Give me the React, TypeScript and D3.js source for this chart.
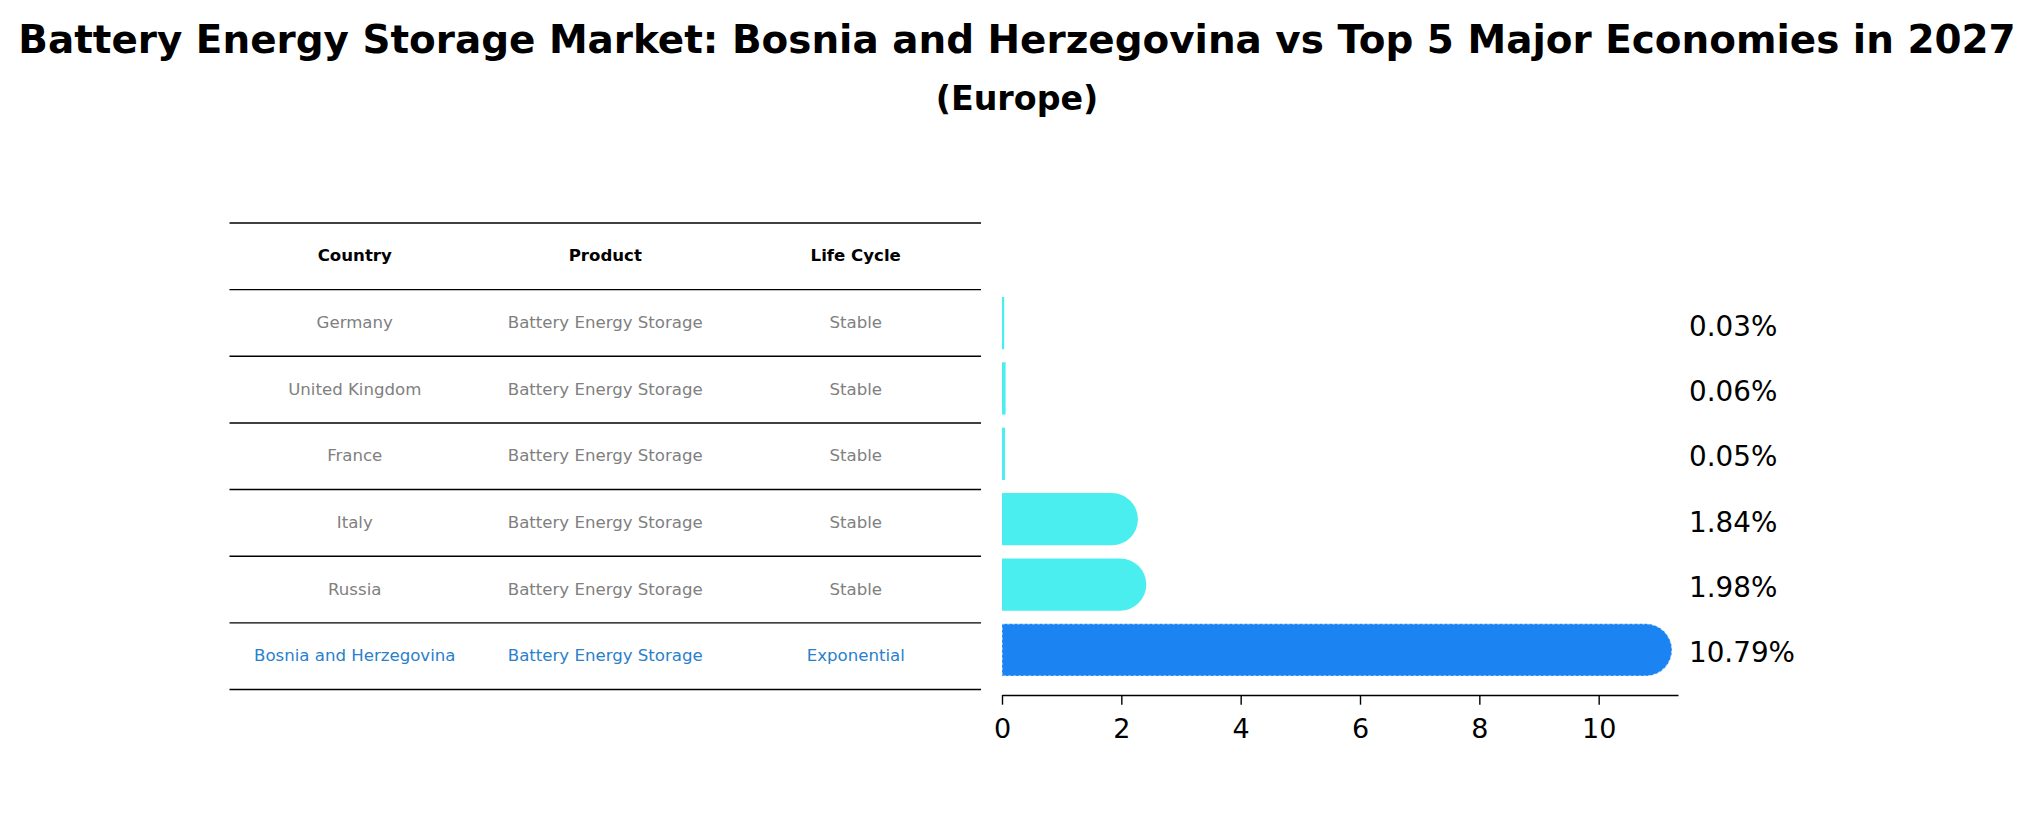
import { useEffect, useRef } from 'react'
import * as d3 from 'd3'

const W = 2034
const H = 823
const FONT = '"DejaVu Sans", sans-serif'

const headers = ['Country', 'Product', 'Life Cycle']
const countries = ['Germany', 'United Kingdom', 'France', 'Italy', 'Russia', 'Bosnia and Herzegovina']
const products = ['Battery Energy Storage', 'Battery Energy Storage', 'Battery Energy Storage', 'Battery Energy Storage', 'Battery Energy Storage', 'Battery Energy Storage']
const lifeCycles = ['Stable', 'Stable', 'Stable', 'Stable', 'Stable', 'Exponential']
const growth = [0.03, 0.06, 0.05, 1.84, 1.98, 10.79]
const xTicks = [0, 2, 4, 6, 8, 10]

const FOCUS = 'Bosnia and Herzegovina'
const CYAN = '#4aeeee'
const BLUE = '#1b84f2'
const FOCUS_TEXT = '#2a80cc'

export default function App() {
  const svgRef = useRef<SVGSVGElement>(null)

  useEffect(() => {
    const svg = d3.select(svgRef.current)
    svg.selectAll('*').remove()
    svg.append('rect').attr('width', W).attr('height', H).attr('fill', '#fff')

    // titles
    svg.append('text').attr('x', W / 2).attr('y', 53).attr('text-anchor', 'middle')
      .attr('font-family', FONT).attr('font-weight', 'bold').attr('font-size', 38.9)
      .text('Battery Energy Storage Market: Bosnia and Herzegovina vs Top 5 Major Economies in 2027')
    svg.append('text').attr('x', W / 2).attr('y', 110).attr('text-anchor', 'middle')
      .attr('font-family', FONT).attr('font-weight', 'bold').attr('font-size', 33.3)
      .text('(Europe)')

    // table
    const rows = d3.scaleBand<string>().domain(['__head', ...countries]).range([223, 689.5])
    const cols = d3.scaleBand<string>().domain(headers).range([229.5, 981])
    const tg = svg.append('g')
    const lineYs = [...rows.domain().map((d) => rows(d)!), rows.range()[1]]
    lineYs.forEach((y) => tg.append('line').attr('x1', cols.range()[0]).attr('x2', cols.range()[1])
      .attr('y1', y).attr('y2', y).attr('stroke', '#000').attr('stroke-width', 1.4))
    headers.forEach((h) => tg.append('text')
      .attr('x', cols(h)! + cols.bandwidth() / 2).attr('y', rows('__head')! + rows.bandwidth() / 2 + 5)
      .attr('text-anchor', 'middle').attr('font-family', FONT).attr('font-weight', 'bold').attr('font-size', 16.6)
      .text(h))
    countries.forEach((c, i) => {
      const cells = [c, products[i], lifeCycles[i]]
      const color = c === FOCUS ? FOCUS_TEXT : '#808080'
      cells.forEach((t, j) => tg.append('text')
        .attr('x', cols(headers[j])! + cols.bandwidth() / 2).attr('y', rows(c)! + rows.bandwidth() / 2 + 5)
        .attr('text-anchor', 'middle').attr('font-family', FONT).attr('font-size', 16.6)
        .attr('fill', color).text(t))
    })

    // bars
    const maxV = d3.max(growth)!
    const x = d3.scaleLinear().domain([0, maxV * 1.05]).range([1002, 1678])
    const n = countries.length
    const y = d3.scaleLinear().domain([-0.69, n - 1 + 0.69]).range([695, 278])
    const bh = y(0) - y(0.8)
    const bg = svg.append('g')
    countries.forEach((c, i) => {
      const yc = y(n - 1 - i)
      const top = yc - bh / 2
      const bottom = yc + bh / 2
      const x0 = x(0)
      const xv = x(growth[i])
      const w = xv - x0
      const fill = c === FOCUS ? BLUE : CYAN
      if (w > 6) {
        const r = bh / 2
        bg.append('path')
          .attr('d', `M${x0},${top} H${xv} A${r},${r} 0 0 1 ${xv},${bottom} H${x0} Z`)
          .attr('fill', fill)
          .attr('stroke', c === FOCUS ? '#ffffff' : 'none')
          .attr('stroke-opacity', 0.55).attr('stroke-width', 1.5).attr('stroke-dasharray', '3,2')
      } else {
        bg.append('rect').attr('x', x0).attr('y', top).attr('width', Math.max(w, 2.2)).attr('height', bh)
          .attr('fill', fill)
      }
      bg.append('text').attr('x', x.range()[1] + 11).attr('y', yc + 12.5)
        .attr('font-family', FONT).attr('font-size', 27.8).attr('fill', '#000')
        .text(`${growth[i].toFixed(2)}%`)
    })

    // x axis
    const ag = svg.append('g').attr('transform', `translate(0,${y.range()[0]})`)
    ag.call(d3.axisBottom(x).tickValues(xTicks).tickSize(9.7).tickPadding(14).tickSizeOuter(0).tickFormat((d) => `${d}`))
      .call((a) => {
        a.select('.domain').attr('stroke', '#000').attr('stroke-width', 1.4)
        a.selectAll('.tick line').attr('stroke', '#000').attr('stroke-width', 1.4)
        a.selectAll('.tick text').attr('fill', '#000').attr('font-size', 27).attr('font-family', FONT)
      })
  }, [])

  return (
    <svg ref={svgRef} width={W} height={H}
      style={{ position: 'absolute', left: 0, top: 0, display: 'block' }} />
  )
}
